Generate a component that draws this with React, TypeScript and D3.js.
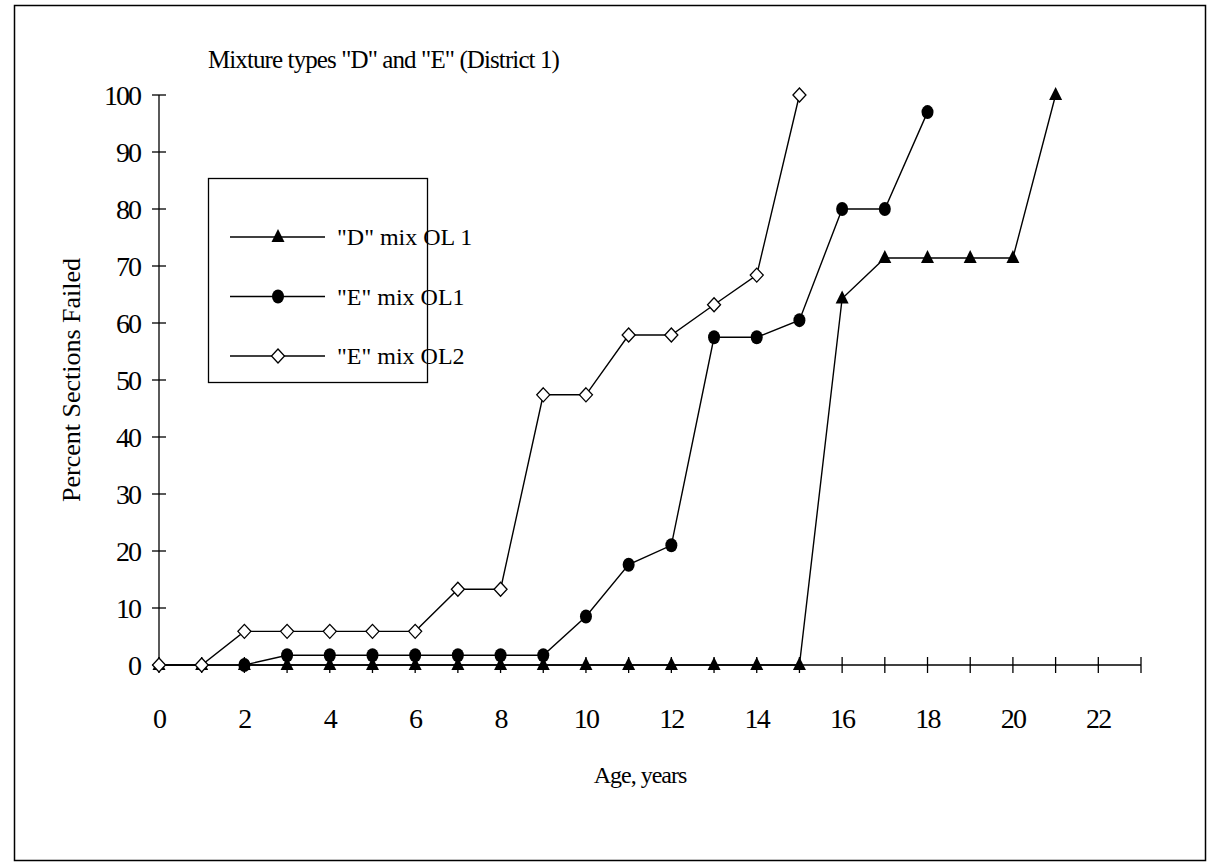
import * as d3 from "d3";

const ages = d3.range(0, 22);
const dMixOL1: [number, number][] = [
  [0, 0], [1, 0], [2, 0], [3, 0], [4, 0], [5, 0], [6, 0], [7, 0], [8, 0],
  [9, 0], [10, 0], [11, 0], [12, 0], [13, 0], [14, 0], [15, 0],
  [16, 64.3], [17, 71.4], [18, 71.4], [19, 71.4], [20, 71.4], [21, 100],
];
const eMixOL1: [number, number][] = [
  [2, 0], [3, 1.7], [4, 1.7], [5, 1.7], [6, 1.7], [7, 1.7], [8, 1.7], [9, 1.7],
  [10, 8.5], [11, 17.6], [12, 21], [13, 57.5], [14, 57.5], [15, 60.5],
  [16, 80], [17, 80], [18, 97],
];
const eMixOL2: [number, number][] = [
  [0, 0], [1, 0], [2, 5.9], [3, 5.9], [4, 5.9], [5, 5.9], [6, 5.9],
  [7, 13.3], [8, 13.3], [9, 47.4], [10, 47.4], [11, 57.9], [12, 57.9],
  [13, 63.2], [14, 68.4], [15, 100],
];
const xTickLabels = [0, 2, 4, 6, 8, 10, 12, 14, 16, 18, 20, 22];
const yTickLabels = [0, 10, 20, 30, 40, 50, 60, 70, 80, 90, 100];
const legendLabels = ['"D" mix OL 1', '"E" mix OL1', '"E" mix OL2'];

const W = 1222;
const H = 863;
const font = "'Liberation Serif', 'Times New Roman', serif";

type Marker = "triangle" | "circle" | "diamond";

function Mark({ kind, x, y }: { kind: Marker; x: number; y: number }) {
  if (kind === "circle") return <ellipse cx={x} cy={y} rx={6} ry={7} fill="#000" />;
  if (kind === "triangle")
    return <path d={`M${x},${y - 8}L${x + 6.5},${y + 5}L${x - 6.5},${y + 5}Z`} fill="#000" />;
  return (
    <path
      d={`M${x},${y - 7}L${x + 6.5},${y}L${x},${y + 7}L${x - 6.5},${y}Z`}
      fill="#fff"
      stroke="#000"
      strokeWidth={1.3}
    />
  );
}

export default function App() {
  const x = d3.scaleLinear().domain([0, 23]).range([159, 1141]);
  const y = d3.scaleLinear().domain([0, 100]).range([665, 95]);
  const line = d3
    .line<[number, number]>()
    .x((d) => x(d[0]))
    .y((d) => y(d[1]));

  const series: { data: [number, number][]; kind: Marker }[] = [
    { data: dMixOL1, kind: "triangle" },
    { data: eMixOL1, kind: "circle" },
    { data: eMixOL2, kind: "diamond" },
  ];

  return (
    <svg
      width={W}
      height={H}
      style={{ position: "absolute", left: 0, top: 0, background: "#fff" }}
      fontFamily={font}
    >
      <rect x={14.5} y={5.5} width={1191} height={855} fill="#fff" stroke="#000" strokeWidth={1.5} />

      {/* axes */}
      <line x1={x(0)} x2={x(0)} y1={y(100)} y2={y(0)} stroke="#000" strokeWidth={1.3} />
      <line x1={x(0)} x2={x(23)} y1={y(0)} y2={y(0)} stroke="#000" strokeWidth={1.3} />
      {yTickLabels.map((v) => (
        <g key={"y" + v}>
          <line x1={x(0) - 7} x2={x(0) + 7} y1={y(v)} y2={y(v)} stroke="#000" strokeWidth={1.3} />
          <text x={x(0) - 19} y={y(v)} dy="0.35em" textAnchor="end" fontSize={28} letterSpacing={-2}>
            {v}
          </text>
        </g>
      ))}
      {[...ages, 22, 23].map((v) => (
        <line key={"xt" + v} x1={x(v)} x2={x(v)} y1={y(0) - 8} y2={y(0) + 8} stroke="#000" strokeWidth={1.3} />
      ))}
      {xTickLabels.map((v) => (
        <text key={"xl" + v} x={x(v)} y={728} textAnchor="middle" fontSize={28} letterSpacing={-1.8}>
          {v}
        </text>
      ))}
      <text x={640} y={783} textAnchor="middle" fontSize={24} letterSpacing={-1}>
        Age, years
      </text>
      <text
        transform={`translate(80,${y(50)}) rotate(-90)`}
        textAnchor="middle"
        fontSize={26}
      >
        Percent Sections Failed
      </text>
      <text x={208} y={68} fontSize={25} letterSpacing={-0.9}>
        Mixture types "D" and "E" (District 1)
      </text>

      {/* series */}
      {series.map((s, i) => (
        <g key={i}>
          <path d={line(s.data) ?? ""} fill="none" stroke="#000" strokeWidth={1.4} />
          {s.data.map((d, j) => (
            <Mark key={j} kind={s.kind} x={x(d[0])} y={y(d[1])} />
          ))}
        </g>
      ))}

      {/* legend */}
      <rect x={208.5} y={178.5} width={219} height={204} fill="#fff" stroke="#000" strokeWidth={1.3} />
      {series.map((s, i) => {
        const ly = 237 + i * 59.5;
        return (
          <g key={"lg" + i}>
            <line x1={230} x2={325} y1={ly} y2={ly} stroke="#000" strokeWidth={1.4} />
            <Mark kind={s.kind} x={278} y={ly} />
            <text x={337} y={ly} dy="0.35em" fontSize={24}>
              {legendLabels[i]}
            </text>
          </g>
        );
      })}
    </svg>
  );
}
